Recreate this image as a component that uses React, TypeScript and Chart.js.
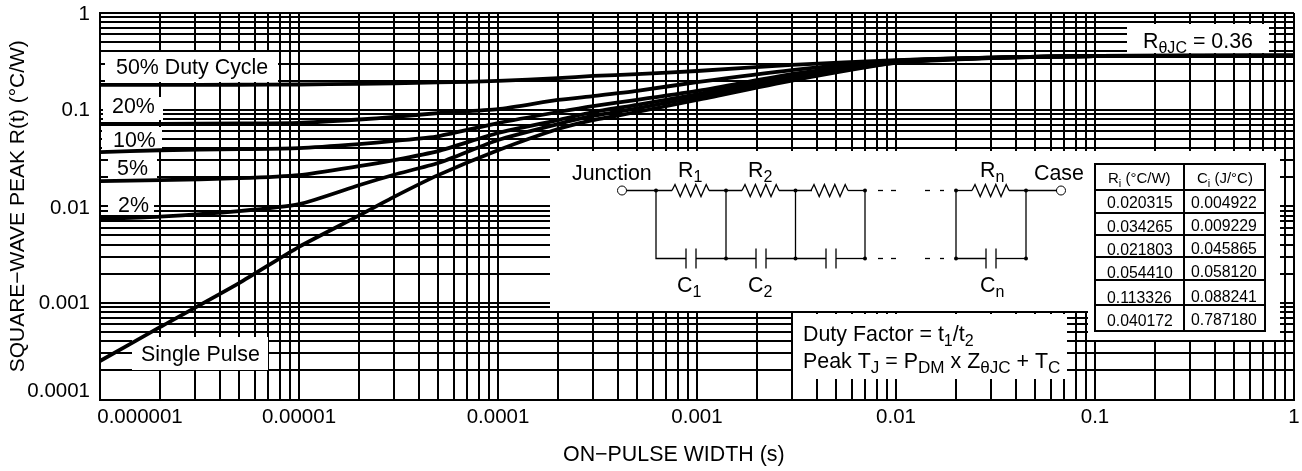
import React, { useEffect, useRef } from "react";
import { Chart, registerables } from "chart.js";

Chart.register(...registerables);

const FONT = '"Liberation Sans", Arial, sans-serif';

const pulseWidths = [1e-6, 2e-6, 5e-6, 1e-5, 2e-5, 3e-5, 5e-5, 1e-4, 2e-4, 3e-4, 5e-4, 1e-3, 3e-3, 1e-2, 3e-2, 1e-1, 1];
const duty50 = [0.18, 0.18, 0.181, 0.182, 0.185, 0.187, 0.191, 0.198, 0.212, 0.223, 0.233, 0.251, 0.29, 0.326, 0.346, 0.359, 0.362];
const duty20 = [0.071, 0.071, 0.072, 0.073, 0.079, 0.084, 0.092, 0.101, 0.126, 0.138, 0.156, 0.193, 0.257, 0.322, 0.346, 0.359, 0.362];
const duty10 = [0.0364, 0.038, 0.039, 0.04, 0.044, 0.0475, 0.053, 0.0725, 0.0945, 0.109, 0.126, 0.156, 0.233, 0.318, 0.345, 0.359, 0.362];
const duty5 = [0.0182, 0.0186, 0.0195, 0.021, 0.026, 0.03, 0.0372, 0.0573, 0.078, 0.0945, 0.112, 0.144, 0.223, 0.311, 0.344, 0.358, 0.362];
const duty2 = [0.0074, 0.0078, 0.0089, 0.0105, 0.0165, 0.0212, 0.028, 0.0485, 0.071, 0.086, 0.103, 0.135, 0.21, 0.307, 0.343, 0.358, 0.362];
const singlePulse = [0.00025, 0.00056, 0.0016, 0.0038, 0.008, 0.0125, 0.021, 0.038, 0.063, 0.078, 0.0945, 0.126, 0.2, 0.304, 0.342, 0.358, 0.362];

const xDecades = [1e-6, 1e-5, 1e-4, 1e-3, 1e-2, 1e-1];
const yDecades = [1e-4, 1e-3, 1e-2, 1e-1];
const multiples = [1, 2, 3, 4, 5, 6, 7, 8, 9];
const xTickLabels: Record<string, string> = { "-6": "0.000001", "-5": "0.00001", "-4": "0.0001", "-3": "0.001", "-2": "0.01", "-1": "0.1", "0": "1" };
const yTickLabels: Record<string, string> = { "-4": "0.0001", "-3": "0.001", "-2": "0.01", "-1": "0.1", "0": "1" };
const xAxisTitle = "ON−PULSE WIDTH (s)";
const yAxisTitle = "SQUARE−WAVE PEAK R(t) (°C/W)";

const dutyLabels = ["50% Duty Cycle", "20%", "10%", "5%", "2%", "Single Pulse"];
const tableHeaders = ["R", "C"];
const riValues = ["0.020315", "0.034265", "0.021803", "0.054410", "0.113326", "0.040172"];
const ciValues = ["0.004922", "0.009229", "0.045865", "0.058120", "0.088241", "0.787180"];

const label = (v: number, table: Record<string, string>) => {
  const e = Math.log10(v);
  const r = Math.round(e);
  return Math.abs(e - r) < 1e-6 ? table[String(r)] ?? "" : "";
};

const buildTicks = (decades: number[]) =>
  decades.flatMap((d) => multiples.map((m) => ({ value: d * m }))).concat([{ value: 1 }]);

function runs(ctx: CanvasRenderingContext2D, x: number, y: number, parts: [string, boolean?][], size: number, subSize = size * 0.75, drop = size * 0.25) {
  let cx = x;
  ctx.textAlign = "left";
  ctx.textBaseline = "alphabetic";
  for (const [t, sub] of parts) {
    ctx.font = `${sub ? subSize : size}px ${FONT}`;
    ctx.fillText(t, cx, sub ? y + drop : y);
    cx += ctx.measureText(t).width;
  }
}

const white = (ctx: CanvasRenderingContext2D, r: number[]) => {
  ctx.fillStyle = "#fff";
  ctx.fillRect(r[0], r[1], r[2] - r[0], r[3] - r[1]);
};

const yLabelShift: Record<string, number> = { "1": 1.5, "0.1": 1, "0.01": 2.5, "0.001": 0, "0.0001": -8.5 };

const backgrounds = {
  id: "backgrounds",
  beforeDraw(chart: any) {
    const xItems = chart.scales.x.getLabelItems();
    if (xItems.length) xItems[0].options.translation[0] += 40;
    for (const it of chart.scales.y.getLabelItems()) {
      it.options.translation[1] += yLabelShift[it.label] ?? 0;
    }
  },
  beforeDatasetsDraw(chart: any) {
    const ctx = chart.ctx;
    ctx.save();
    [
      [105, 52, 278, 82],
      [103, 97, 163, 120],
      [102, 127, 162, 150],
      [108, 158, 157, 179],
      [108, 195, 154, 215],
      [132, 337, 268, 370],
      [1127, 24, 1269, 53],
      [550, 151, 1280, 311],
      [793, 314, 1067, 379],
      [1088, 300, 1280, 340],
    ].forEach((r) => white(ctx, r));
    ctx.restore();
  },
};

const overlay = {
  id: "overlay",
  afterDatasetsDraw(chart: any) {
    const ctx: CanvasRenderingContext2D = chart.ctx;
    ctx.save();
    ctx.fillStyle = "#000";
    ctx.strokeStyle = "#000";
    ctx.textAlign = "left";
    ctx.textBaseline = "alphabetic";
    const S = 21.4;
    ctx.font = `${S}px ${FONT}`;
    ctx.fillText(dutyLabels[0], 116, 74);
    ctx.fillText(dutyLabels[1], 112, 113);
    ctx.fillText(dutyLabels[2], 113, 147);
    ctx.fillText(dutyLabels[3], 117, 175);
    ctx.fillText(dutyLabels[4], 118, 212);
    ctx.fillText(dutyLabels[5], 141, 361);

    // axis title, which sits left of the plot centre in the reference
    ctx.fillText(xAxisTitle, 563, 461);

    runs(ctx, 1143, 48, [["R"], ["θJC", true], [" = 0.36"]], S);

    // circuit
    ctx.font = `${S}px ${FONT}`;
    ctx.fillText("Junction", 572, 180);
    runs(ctx, 678, 177, [["R"], ["1", true]], S);
    runs(ctx, 748, 177, [["R"], ["2", true]], S);
    runs(ctx, 980, 177, [["R"], ["n", true]], S);
    ctx.font = `${S}px ${FONT}`;
    ctx.fillText("Case", 1034, 180);
    runs(ctx, 677, 292, [["C"], ["1", true]], S);
    runs(ctx, 748, 292, [["C"], ["2", true]], S);
    runs(ctx, 980, 292, [["C"], ["n", true]], S);

    const topY = 190.5;
    const botY = 258.5;
    const nodes = [656, 726, 795.5, 865];
    const line = (pts: number[][], w = 1.3) => {
      ctx.lineWidth = w;
      ctx.beginPath();
      pts.forEach((p, i) => (i ? ctx.lineTo(p[0], p[1]) : ctx.moveTo(p[0], p[1])));
      ctx.stroke();
    };
    const resistor = (x0: number) => {
      const p: number[][] = [[x0, topY]];
      for (let i = 0; i < 7; i++) {
        p.push([x0 + 3 + i * 5.2, topY + (i % 2 ? 6 : -6)]);
      }
      p.push([x0 + 37, topY]);
      line(p);
    };
    const cap = (cx: number) => {
      line([[cx - 5, botY - 10], [cx - 5, botY + 10]]);
      line([[cx + 5, botY - 10], [cx + 5, botY + 10]]);
    };
    const dot = (x: number, y: number) => {
      ctx.beginPath();
      ctx.arc(x, y, 2, 0, Math.PI * 2);
      ctx.fill();
    };
    const ring = (x: number, y: number) => {
      ctx.lineWidth = 1;
      ctx.beginPath();
      ctx.arc(x, y, 4.5, 0, Math.PI * 2);
      ctx.stroke();
    };
    ring(622, topY);
    line([[626.5, topY], [672, topY]]);
    line([[709, topY], [742, topY]]);
    line([[779, topY], [812, topY]]);
    line([[848, topY], [865, topY]]);
    resistor(672);
    resistor(742);
    resistor(811);
    line([[656, topY], [656, botY], [686, botY]]);
    line([[696, botY], [756, botY]]);
    line([[766, botY], [826, botY]]);
    line([[836, botY], [865, botY]]);
    cap(691);
    cap(761);
    cap(831);
    nodes.slice(1).forEach((x) => line([[x, topY], [x, botY]]));
    nodes.forEach((x) => { dot(x, topY); if (x !== 656) dot(x, botY); });
    [topY, botY].forEach((y) => {
      line([[878, y], [883, y]]);
      line([[891, y], [896, y]]);
      line([[925, y], [930, y]]);
      line([[940, y], [944, y]]);
    });
    line([[956, topY], [972, topY]]);
    resistor(972);
    line([[1009, topY], [1057, topY]]);
    ring(1061, topY);
    line([[956, topY], [956, botY], [986, botY]]);
    line([[996, botY], [1026, botY]]);
    line([[1026, topY], [1026, botY]]);
    cap(991);
    [956, 1026].forEach((x) => { dot(x, topY); dot(x, botY); });

    // table
    const tx = [1095, 1184, 1265];
    const rows = [164, 190, 213, 235, 257, 280, 305, 331];
    ctx.lineWidth = 2;
    ctx.strokeRect(tx[0], rows[0], tx[2] - tx[0], rows[7] - rows[0]);
    rows.slice(1, 7).forEach((y) => line([[tx[0], y], [tx[2], y]], 2));
    line([[tx[1], rows[0]], [tx[1], rows[7]]], 2);
    const cs = 15.8;
    runs(ctx, 1108, 183, [[tableHeaders[0]], ["i", true], [" (°C/W)"]], 15, 11, 4);
    runs(ctx, 1197, 183, [[tableHeaders[1]], ["i", true], [" (J/°C)"]], 15, 11, 4);
    ctx.font = `${cs}px ${FONT}`;
    const riY = [208, 232, 255, 278, 303, 326];
    const ciY = [208, 231, 254, 277, 302, 325];
    riValues.forEach((v, i) => ctx.fillText(v, 1107, riY[i]));
    ciValues.forEach((v, i) => ctx.fillText(v, 1191, ciY[i]));

    // duty factor
    runs(ctx, 803, 341, [["Duty Factor = t"], ["1", true], ["/t"], ["2", true]], S);
    runs(ctx, 803, 368, [["Peak T"], ["J", true], [" = P"], ["DM", true], [" x Z"], ["θJC", true], [" + T"], ["C", true]], S, S * 0.8);
    ctx.restore();
  },
};

const series = [duty50, duty20, duty10, duty5, duty2, singlePulse];

export default function App() {
  const ref = useRef<HTMLCanvasElement>(null);
  useEffect(() => {
    const zeroPad = (s: any) => { s.paddingTop = 0; s.paddingBottom = 0; s.paddingLeft = 0; s.paddingRight = 0; };
    const chart = new Chart(ref.current!, {
      type: "line",
      data: {
        labels: pulseWidths,
        datasets: series.map((d, i) => ({
          label: dutyLabels[i],
          data: d.map((y, j) => ({ x: pulseWidths[j], y })),
          borderColor: "#000",
          borderWidth: 3.8,
          pointRadius: 0,
          tension: 0.2,
          fill: false,
          borderCapStyle: "round",
        })),
      },
      plugins: [backgrounds, overlay],
      options: {
        animation: false,
        responsive: false,
        layout: { padding: { left: 0, top: 13, right: 8, bottom: 0 } },
        plugins: { legend: { display: false }, tooltip: { enabled: false } },
        scales: {
          x: {
            type: "logarithmic",
            min: 1e-6,
            max: 1,
            afterBuildTicks: (s: any) => { s.ticks = buildTicks(xDecades); },
            afterFit: (s: any) => { s.height = 71.5; zeroPad(s); },
            grid: { color: "#000", lineWidth: 2, drawTicks: false },
            border: { color: "#000", width: 2 },
            ticks: {
              color: "#000",
              font: { family: FONT, size: 20.5 },
              padding: 6,
              autoSkip: false,
              maxRotation: 0,
              callback: (v: any) => label(Number(v), xTickLabels),
            },
          },
          y: {
            type: "logarithmic",
            min: 1e-4,
            max: 1,
            afterBuildTicks: (s: any) => { s.ticks = buildTicks(yDecades); },
            afterFit: (s: any) => { s.width = 100; zeroPad(s); },
            grid: { color: "#000", lineWidth: 2, drawTicks: false },
            border: { color: "#000", width: 2 },
            ticks: {
              color: "#000",
              font: { family: FONT, size: 20.5 },
              padding: 10,
              autoSkip: false,
              callback: (v: any) => label(Number(v), yTickLabels),
            },
            title: { display: true, text: yAxisTitle, color: "#000", font: { family: FONT, size: 21 }, padding: { top: 6, bottom: 0 } },
          },
        },
      } as any,
    } as any);
    return () => chart.destroy();
  }, []);
  return (
    <div style={{ position: "absolute", left: 0, top: 0, width: 1302, height: 471, background: "#fff" }}>
      <canvas ref={ref} width={1302} height={471} style={{ display: "block" }} />
    </div>
  );
}
